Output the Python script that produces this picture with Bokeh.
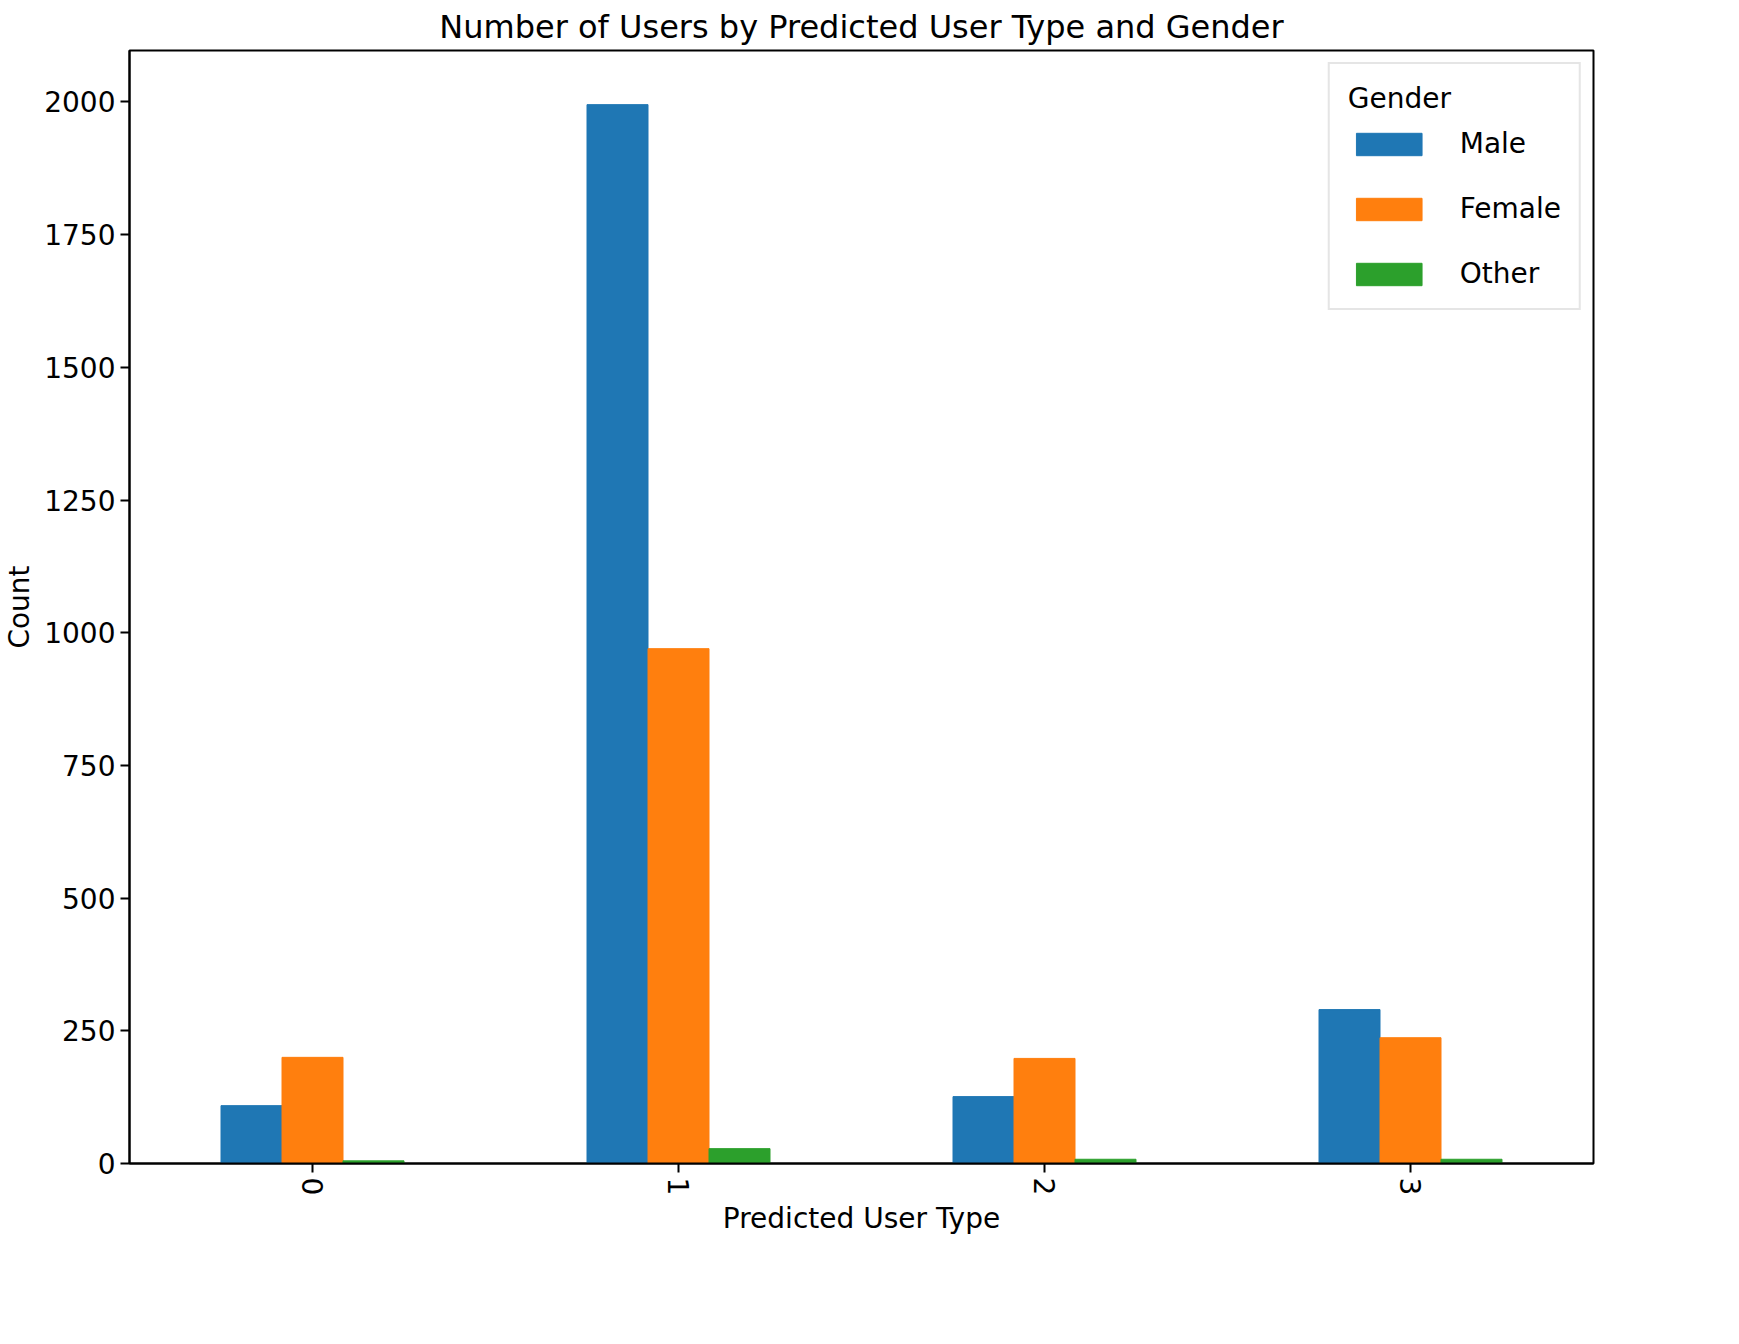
from bokeh.plotting import figure
from bokeh.models import Range1d, FixedTicker, Legend, LegendItem
from bokeh.embed import file_html
from bokeh.resources import INLINE
import math

# data
user_types = [0, 1, 2, 3]
genders = ["Male", "Female", "Other"]
male = [109, 1995, 126, 290]
female = [200, 970, 198, 237]
other = [5, 28, 8, 8]
colors = ["#1f77b4", "#ff7f0e", "#2ca02c"]

p = figure(frame_width=1464, frame_height=1113, output_backend="svg",
           toolbar_location=None, x_range=Range1d(-0.5, 3.5), y_range=Range1d(0, 2097),
           min_border_left=120, min_border_top=45, min_border_right=30, min_border_bottom=40)
p.title.text = "Number of Users by Predicted User Type and Gender"
p.title.align = "center"
p.title.text_font = "DejaVu Sans"
p.title.text_font_size = "32px"
p.title.text_font_style = "normal"
p.title.text_color = "black"

w = 1 / 6
items = []
for i, (name, vals) in enumerate(zip(genders, [male, female, other])):
    xs = [t + (i - 1) * w for t in user_types]
    r = p.vbar(x=xs, top=vals, width=w, color=colors[i])
    items.append(LegendItem(label=name, renderers=[r]))

legend = Legend(items=items, location="top_right", title="Gender")
legend.title_text_font = "DejaVu Sans"
legend.title_text_font_size = "28px"
legend.title_text_font_style = "normal"
legend.title_text_color = "black"
legend.title_standoff = 12
legend.label_text_font = "DejaVu Sans"
legend.label_text_font_size = "28px"
legend.label_text_color = "black"
legend.label_standoff = 30
legend.glyph_width = 82
legend.glyph_height = 28
legend.spacing = 32
legend.padding = 18
legend.margin = 12
legend.border_line_color = "#cccccc"
legend.border_line_width = 2
p.add_layout(legend)

p.xgrid.visible = False
p.ygrid.visible = False
p.outline_line_color = "black"
p.outline_line_width = 2

p.xaxis.ticker = FixedTicker(ticks=user_types)
p.xaxis.major_label_orientation = -math.pi / 2
p.yaxis.ticker = FixedTicker(ticks=[0, 250, 500, 750, 1000, 1250, 1500, 1750, 2000])
p.xaxis.axis_label = "Predicted User Type"
p.yaxis.axis_label = "Count"
for ax in [p.xaxis, p.yaxis]:
    ax.axis_label_text_font = "DejaVu Sans"
    ax.axis_label_text_font_size = "28px"
    ax.axis_label_text_font_style = "normal"
    ax.axis_label_text_color = "black"
    ax.major_label_text_font = "DejaVu Sans"
    ax.major_label_text_font_size = "28px"
    ax.major_label_text_color = "black"
    ax.minor_tick_line_color = None
    ax.major_tick_out = 9
    ax.major_tick_in = 0
    ax.major_tick_line_width = 2
    ax.axis_line_width = 2
p.xaxis.axis_label_standoff = 4

open("out.html", "w").write(file_html(p, INLINE))
